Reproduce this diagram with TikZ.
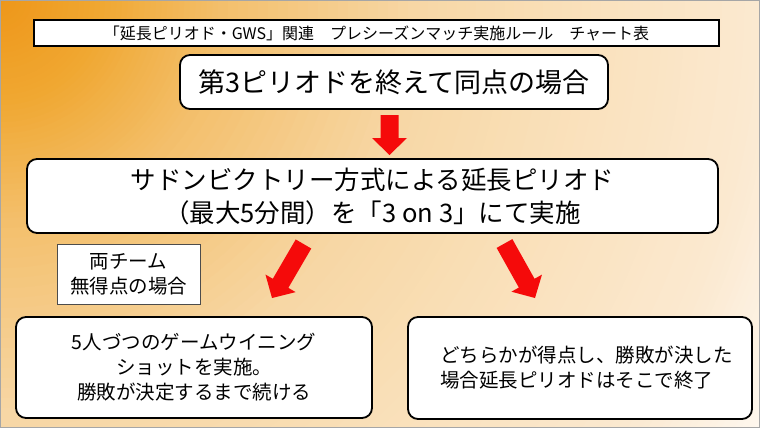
\documentclass[tikz,border=0pt]{standalone}
\usepackage{fontspec}
\setmainfont{Noto Sans CJK JP}
\usetikzlibrary{calc}
\definecolor{bg0}{RGB}{238,150,25}
\definecolor{bg1}{RGB}{240,168,50}
\definecolor{bg2}{RGB}{243,190,105}
\definecolor{bg3}{RGB}{247,215,165}
\definecolor{bg4}{RGB}{250,226,190}
\definecolor{bg5}{RGB}{251,233,208}
\definecolor{bg6}{RGB}{254,247,238}
\definecolor{arrowred}{RGB}{245,10,10}
\tikzset{
  roundbox/.style={draw=black, line width=1.8pt, fill=white, rounded corners=10pt, inner sep=0pt, align=center},
  titlebox/.style={draw=black, line width=1.8pt, fill=white, inner sep=0pt},
  notebox/.style={draw=black!70, line width=1pt, fill=white, inner sep=0pt, align=center},
  lowtext/.style={font=\fontsize{19.5}{25}\selectfont},
}
\newcommand\blockarrow[2]{%
  \coordinate (ba-h) at ($(#2)!17pt!(#1)$);
  \fill[arrowred] ($(#1)!9pt!90:(#2)$) -- ($(ba-h)!9pt!90:(#2)$) -- ($(ba-h)!17.5pt!90:(#2)$) -- (#2)
    -- ($(ba-h)!17.5pt!-90:(#2)$) -- ($(ba-h)!9pt!-90:(#2)$) -- ($(#1)!9pt!-90:(#2)$) -- cycle;
}
\begin{document}
\begin{tikzpicture}[x=1pt,y=1pt]
\useasboundingbox (0,0) rectangle (760,-428);
\begin{scope}
  \clip (0,0) rectangle (760,-428);
  \fill[bg6] (0,0) rectangle (760,-428);
  \foreach \ca/\cb/\ra/\rb in {bg5/bg6/759/872, bg4/bg5/610/759, bg3/bg4/418/610, bg2/bg3/218/418, bg1/bg2/105/218, bg0/bg1/0/105} {
    \foreach \i in {0,...,19} {
      \pgfmathsetmacro\rr{\rb-\i*(\rb-\ra)/20}
      \pgfmathsetmacro\pp{100*\i/20}
      \fill[\ca!\pp!\cb] (0,0) circle (\rr);
    }
  }
\end{scope}
\draw[black!35, line width=1pt] (0.5,-0.5) rectangle (759.5,-427.5);

\node[titlebox, minimum width=685pt, minimum height=26pt, font=\fontsize{16}{19}\selectfont] (title) at (376.5,-33)
  {「延長ピリオド・GWS」関連　プレシーズンマッチ実施ルール　チャート表};

\node[roundbox, minimum width=428pt, minimum height=54pt, font=\fontsize{27}{33}\selectfont] (tie) at (394,-82)
  {第3ピリオドを終えて同点の場合};

\node[roundbox, minimum width=691pt, minimum height=74pt, font=\fontsize{25.5}{33}\selectfont] (ot) at (372.5,-196)
  {サドンビクトリー方式による延長ピリオド\\（最大5分間）を「3 on 3」にて実施};

\node[notebox, minimum width=143pt, minimum height=60pt, lowtext] (note) at (128.5,-274)
  {両チーム\\無得点の場合};

\node[roundbox, minimum width=356pt, minimum height=101pt, lowtext] (gws) at (194,-367.5)
  {5人づつのゲームウイニング\\ショットを実施。\\勝敗が決定するまで続ける};

\node[roundbox, minimum width=344pt, minimum height=102pt, lowtext, align=left] (end) at (580,-368)
  {\hspace*{13pt}どちらかが得点し、勝敗が決した\\\hspace*{13pt}場合延長ピリオドはそこで終了};

\coordinate (a1s) at (389.5,-115);
\coordinate (a1e) at (389.5,-155);
\coordinate (a2s) at (303.5,-244);
\coordinate (a2e) at (272,-298);
\coordinate (a3s) at (504.5,-243.5);
\coordinate (a3e) at (535,-298);
\blockarrow{a1s}{a1e}
\blockarrow{a2s}{a2e}
\blockarrow{a3s}{a3e}
\end{tikzpicture}
\end{document}
